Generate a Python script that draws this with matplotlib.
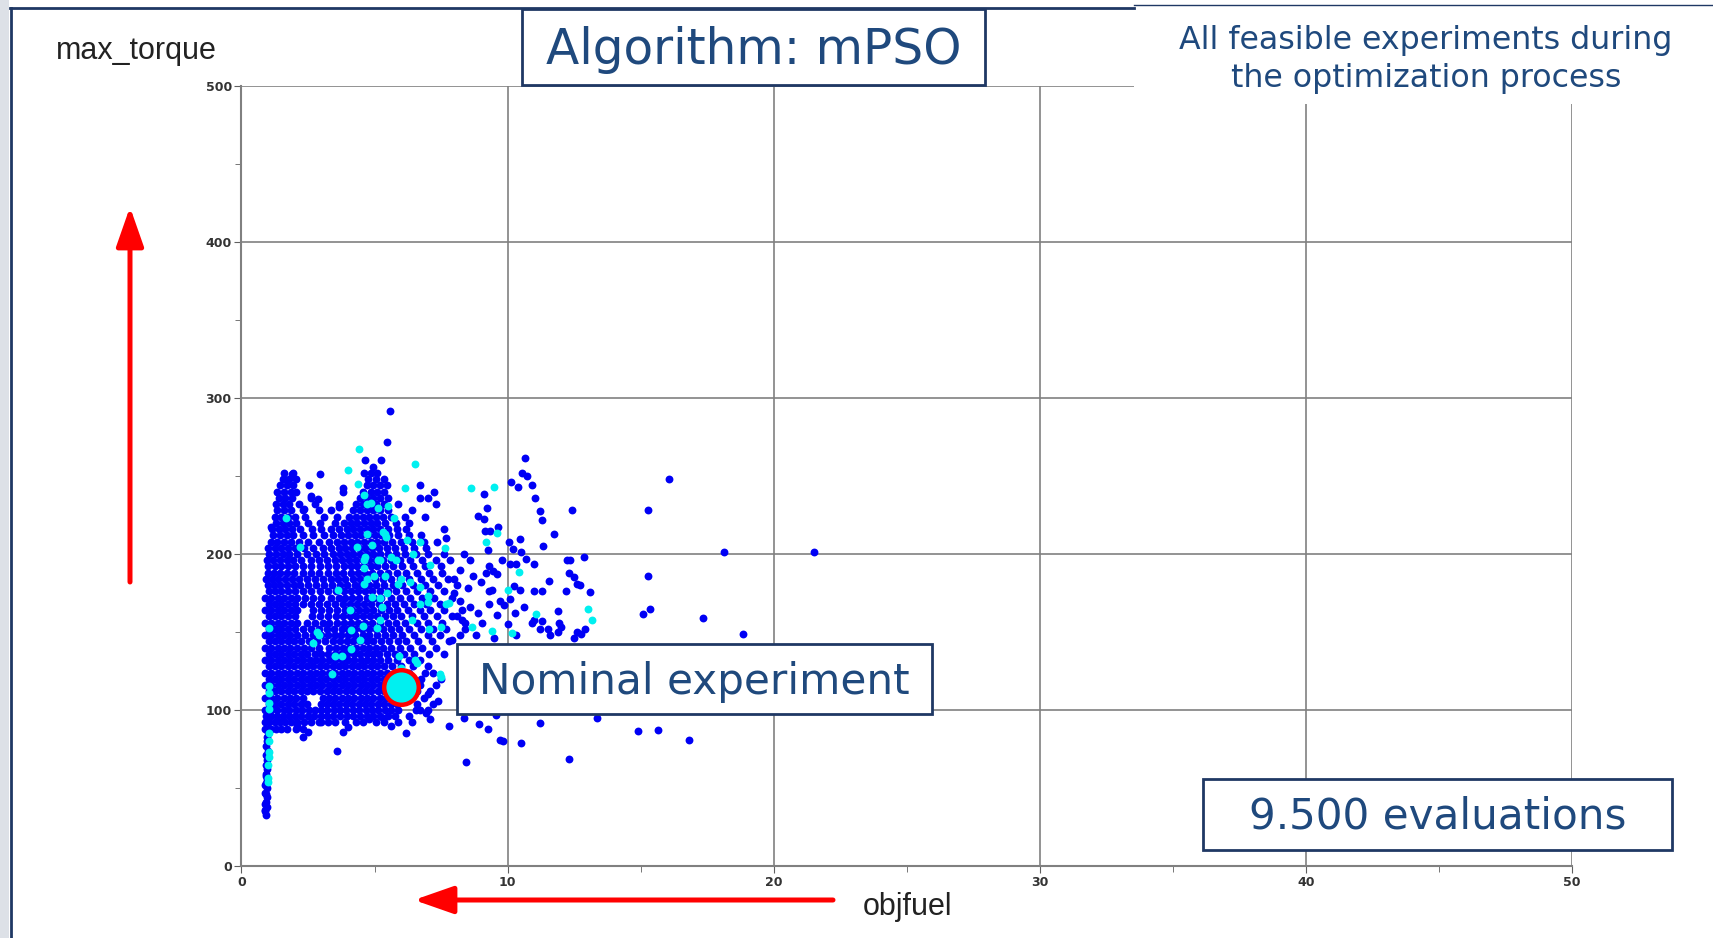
import matplotlib
matplotlib.use("Agg")
import matplotlib.pyplot as plt
from matplotlib.patches import Rectangle, FancyArrowPatch
from matplotlib.lines import Line2D

W, H = 1713, 938

# dense core of the cloud, read row by row (max_torque row -> objfuel values)
row_y = [88, 92, 96, 100, 104, 108, 112, 116, 120, 124, 128, 132, 136, 140, 144, 148,
         152, 156, 160, 164, 168, 172, 176, 180, 184, 188, 192, 196, 200, 204, 208, 212,
         216, 220, 224, 228, 232, 236, 240, 244, 248, 252, 256, 260]
row_x = [
    [0.88, 1.0, 1.12, 1.3, 1.5, 1.72, 2.05, 2.3],
    [0.9, 1.05, 1.25, 1.45, 1.65, 1.85, 2.1, 2.35, 2.62, 2.9, 3.25, 3.5, 3.9, 4.3, 4.55, 5.05, 5.35, 5.9],
    [0.92, 1.1, 1.32, 1.55, 1.78, 2.0, 2.25, 2.5, 2.72, 2.98, 3.2, 3.45, 3.7, 3.95, 4.2, 4.45, 4.7, 4.95, 5.2, 5.5, 5.78, 6.3],
    [0.9, 1.12, 1.35, 1.58, 1.8, 2.05, 2.28, 2.52, 2.76, 3.0, 3.22, 3.46, 3.7, 3.94, 4.18, 4.42, 4.66, 4.9, 5.14, 5.38, 5.62, 5.9, 6.55, 7.0],
    [1.02, 1.26, 1.5, 1.74, 1.98, 2.22, 2.46, 2.98, 3.22, 3.45, 3.68, 3.92, 4.16, 4.4, 4.64, 4.88, 5.12, 5.36, 5.6, 5.84, 6.6],
    [0.9, 1.1, 1.34, 1.58, 1.82, 2.06, 2.3, 3.05, 3.28, 3.52, 3.76, 4.0, 4.24, 4.48, 4.72, 4.96, 5.2, 5.44, 5.68, 6.85],
    [1.02, 1.26, 1.5, 1.74, 1.98, 2.22, 2.46, 2.7, 2.96, 3.2, 3.44, 3.68, 3.92, 4.16, 4.4, 4.64, 4.88, 5.12, 5.36, 5.58, 6.6, 7.1],
    [0.9, 1.12, 1.36, 1.6, 1.84, 2.08, 2.32, 2.56, 2.8, 3.04, 3.28, 3.52, 3.76, 4.0, 4.24, 4.48, 4.72, 4.96, 5.2, 5.42, 6.7, 7.3],
    [1.02, 1.26, 1.5, 1.74, 1.98, 2.22, 2.46, 2.7, 2.94, 3.18, 3.42, 3.66, 3.9, 4.14, 4.38, 4.62, 4.86, 5.1, 5.34, 5.6, 5.85, 6.75, 7.5],
    [0.9, 1.12, 1.36, 1.6, 1.84, 2.08, 2.32, 2.56, 2.8, 3.04, 3.28, 3.52, 3.76, 4.0, 4.24, 4.48, 4.72, 4.96, 5.2, 5.45, 5.75, 6.3, 6.9, 7.2],
    [1.02, 1.26, 1.5, 1.74, 1.98, 2.22, 2.46, 2.7, 2.94, 3.18, 3.42, 3.66, 3.9, 4.14, 4.38, 4.62, 4.86, 5.1, 5.36, 5.65, 6.0, 6.45, 7.0],
    [0.9, 1.12, 1.36, 1.6, 1.84, 2.08, 2.32, 2.56, 2.8, 3.04, 3.28, 3.52, 3.76, 4.0, 4.24, 4.48, 4.72, 4.96, 5.22, 5.5, 5.85, 6.3, 6.7],
    [1.02, 1.26, 1.5, 1.74, 1.98, 2.22, 2.46, 2.76, 3.0, 3.26, 3.5, 3.74, 3.98, 4.22, 4.46, 4.7, 4.94, 5.18, 5.45, 5.75, 6.1, 6.5, 7.05, 7.6],
    [0.9, 1.12, 1.36, 1.6, 1.84, 2.08, 2.35, 2.62, 2.9, 3.3, 3.55, 3.8, 4.05, 4.3, 4.55, 4.8, 5.05, 5.3, 5.6, 5.95, 6.35, 6.8, 7.3],
    [1.02, 1.26, 1.5, 1.74, 1.98, 2.25, 2.55, 2.84, 3.12, 3.45, 3.72, 3.96, 4.2, 4.46, 4.72, 4.96, 5.25, 5.55, 5.88, 6.2, 6.65, 7.15, 7.8],
    [0.9, 1.12, 1.36, 1.6, 1.84, 2.1, 2.4, 2.7, 3.0, 3.25, 3.5, 3.75, 4.0, 4.25, 4.55, 4.8, 5.1, 5.4, 5.7, 6.05, 6.5, 7.0, 7.45, 8.2],
    [1.02, 1.26, 1.5, 1.74, 2.0, 2.3, 2.6, 2.9, 3.2, 3.48, 3.76, 4.02, 4.28, 4.52, 4.78, 5.04, 5.3, 5.6, 5.92, 6.3, 6.75, 7.2, 7.7],
    [0.9, 1.12, 1.36, 1.6, 1.85, 2.1, 2.45, 2.75, 3.05, 3.3, 3.58, 3.85, 4.1, 4.38, 4.65, 4.9, 5.2, 5.5, 5.8, 6.15, 6.6, 7.0, 7.55, 8.4],
    [1.02, 1.26, 1.5, 1.76, 2.0, 2.65, 2.95, 3.25, 3.54, 3.8, 4.06, 4.32, 4.56, 4.84, 5.1, 5.4, 5.7, 6.0, 6.4, 6.85, 7.35, 7.9],
    [0.9, 1.12, 1.36, 1.6, 1.85, 2.1, 2.7, 3.0, 3.3, 3.6, 3.88, 4.15, 4.4, 4.68, 4.95, 5.25, 5.55, 5.85, 6.25, 6.7, 7.1, 7.6, 8.3],
    [1.02, 1.26, 1.5, 1.74, 2.0, 2.3, 2.6, 2.9, 3.2, 3.5, 3.8, 4.06, 4.34, 4.6, 4.88, 5.16, 5.45, 5.78, 6.1, 6.5, 6.95, 7.45],
    [0.9, 1.12, 1.36, 1.6, 1.85, 2.1, 2.4, 2.7, 3.0, 3.35, 3.65, 3.9, 4.15, 4.42, 4.7, 4.98, 5.25, 5.6, 5.95, 6.35, 6.8, 7.25, 7.9],
    [1.02, 1.26, 1.5, 1.74, 2.0, 2.3, 2.6, 2.95, 3.25, 3.55, 3.85, 4.1, 4.36, 4.64, 4.9, 5.2, 5.5, 5.82, 6.2, 6.6, 7.1, 7.6],
    [1.0, 1.22, 1.46, 1.7, 1.96, 2.2, 2.5, 2.8, 3.1, 3.4, 3.7, 3.98, 4.25, 4.5, 4.78, 5.05, 5.35, 5.7, 6.05, 6.45, 6.9, 7.4, 8.1],
    [0.92, 1.15, 1.38, 1.62, 1.88, 2.15, 2.45, 2.75, 3.05, 3.35, 3.62, 3.9, 4.18, 4.45, 4.72, 5.0, 5.3, 5.6, 5.95, 6.3, 6.75, 7.2, 7.75],
    [1.0, 1.22, 1.46, 1.7, 1.98, 2.3, 2.6, 2.92, 3.25, 3.55, 3.82, 4.1, 4.38, 4.65, 4.92, 5.2, 5.5, 5.85, 6.2, 6.6, 7.05, 7.55],
    [1.0, 1.25, 1.5, 1.75, 2.0, 2.3, 2.6, 2.95, 3.25, 3.55, 3.85, 4.1, 4.35, 4.6, 4.85, 5.1, 5.4, 5.7, 6.05, 6.45, 6.9, 7.5],
    [0.95, 1.2, 1.45, 1.7, 1.95, 2.25, 2.6, 2.9, 3.2, 3.5, 3.78, 4.05, 4.3, 4.55, 4.8, 5.05, 5.3, 5.6, 5.95, 6.35, 6.8, 7.3, 7.85],
    [1.05, 1.3, 1.55, 1.8, 2.1, 2.45, 2.8, 3.1, 3.45, 3.7, 3.95, 4.2, 4.45, 4.7, 4.95, 5.2, 5.5, 5.8, 6.15, 6.55, 7.0, 7.6],
    [1.0, 1.25, 1.5, 1.75, 2.0, 2.35, 2.7, 3.05, 3.35, 3.65, 3.9, 4.15, 4.4, 4.65, 4.9, 5.15, 5.45, 5.75, 6.1, 6.5, 6.95],
    [1.1, 1.35, 1.6, 1.85, 2.15, 2.5, 2.9, 3.3, 3.6, 3.85, 4.1, 4.35, 4.6, 4.85, 5.1, 5.35, 5.65, 6.0, 6.4, 6.85, 7.35],
    [1.2, 1.45, 1.7, 1.95, 2.3, 2.7, 3.1, 3.45, 3.75, 4.0, 4.25, 4.5, 4.75, 5.0, 5.25, 5.55, 5.9, 6.3, 6.75],
    [1.15, 1.4, 1.65, 1.9, 2.2, 2.65, 3.0, 3.35, 3.65, 3.95, 4.2, 4.45, 4.7, 4.95, 5.2, 5.5, 5.85, 6.2, 7.6],
    [1.3, 1.55, 1.8, 2.05, 2.5, 2.95, 3.5, 3.85, 4.1, 4.35, 4.6, 4.85, 5.1, 5.4, 5.8, 6.3],
    [1.25, 1.5, 1.75, 2.0, 2.4, 3.1, 3.6, 4.05, 4.3, 4.55, 4.8, 5.05, 5.3, 5.6, 6.15, 6.9],
    [1.35, 1.6, 1.85, 2.3, 2.9, 3.35, 4.2, 4.45, 4.7, 4.95, 5.2, 5.5, 6.4],
    [1.3, 1.55, 1.8, 2.15, 2.75, 3.65, 4.3, 4.55, 4.8, 5.05, 5.35, 5.9, 7.3],
    [1.4, 1.65, 1.9, 2.6, 4.45, 4.7, 4.95, 5.2, 5.5, 6.7, 7.0],
    [1.35, 1.6, 1.85, 2.05, 3.8, 4.55, 4.85, 5.1, 5.35, 7.25],
    [1.45, 1.7, 1.95, 2.55, 4.7, 4.95, 5.2, 5.45, 6.7],
    [1.55, 1.8, 2.05, 4.75, 5.05, 5.35],
    [1.6, 1.95, 4.6, 4.85, 5.1],
    [4.95],
    [4.63, 5.24],
]

# thin column of low-torque points at objfuel ~ 1
thin_x = [0.92, 0.9, 0.97, 0.92, 0.95, 0.9, 0.96, 0.92, 0.95, 0.91, 0.97, 0.93, 0.96, 0.92, 0.98, 0.93, 0.97, 0.95, 0.99,
          0.9, 0.9, 0.91, 0.9, 0.92]
thin_y = [33, 36, 38, 41, 44, 47, 50, 53, 56, 59, 62, 65, 68, 71, 74, 77, 80, 83, 86,
          35, 40, 46, 52, 58]

# scattered (objfuel, max_torque) points outside the core
blue_pts = [
    (5.59, 291.7), (5.47, 272), (2.95, 251), (3.82, 242.5), (2.6, 237), (2.88, 235), (1.89, 251), (1.59, 248),
    (3.67, 230), (2.33, 229), (1.1, 217),
    (2.3, 83), (3.6, 74), (3.8, 86), (4.0, 89), (2.1, 90), (2.5, 86), (6.2, 85), (6.42, 92), (7.09, 94),
    (7.78, 89.7), (8.38, 94.7), (8.44, 66.5), (8.93, 90.8), (9.26, 87.8), (9.56, 96.6), (9.72, 80.8), (9.84, 80.3),
    (10.5, 78.6), (11.22, 91.5), (12.3, 68.4), (13.35, 94.7), (14.9, 86.5), (15.67, 87), (16.83, 80.8),
    (4.8, 94), (5.3, 95), (3.0, 92), (5.6, 90),
    (10.67, 261.3), (10.53, 251.7), (10.74, 250), (10.13, 246.4), (10.38, 243), (10.91, 244), (9.12, 238.5),
    (11.02, 236), (9.23, 229.3), (11.2, 227.8), (11.3, 222), (8.89, 224.6), (9.1, 222.4), (12.42, 228.2),
    (15.27, 228), (9.65, 217.5), (11.76, 212.6), (9.15, 214.5), (9.35, 215), (10.47, 209.8), (10.06, 207.5),
    (11.32, 205.3), (9.25, 202.5), (10.2, 203), (10.5, 201), (12.88, 198), (10.7, 197), (12.25, 196),
    (12.35, 196.3), (9.8, 196), (10.98, 193.4), (10.1, 193.6), (10.3, 193.6), (12.3, 187.6), (12.5, 185),
    (15.26, 186), (9.2, 188), (9.45, 189), (9.6, 187.5), (11.56, 183), (12.6, 181), (12.72, 180), (13.1, 175.9),
    (12.2, 176.5), (11.0, 176), (11.3, 176), (10.24, 179.7), (10.47, 177), (9.3, 176.5), (9.42, 176.8),
    (11.9, 163.7), (15.1, 161.5), (15.36, 164.7), (10.9, 156), (11.0, 158), (11.3, 157), (11.95, 156),
    (11.2, 152), (11.5, 152), (11.9, 150), (12.6, 150), (12.9, 152), (10.28, 162.4), (9.7, 170), (9.85, 167),
    (12.76, 148.7), (12.51, 146.3), (12.0, 153.4), (11.6, 148), (16.08, 248), (18.13, 201), (21.53, 201),
    (17.34, 159.2), (18.85, 149),
    (8.2, 170), (8.6, 166), (8.9, 162), (9.3, 168), (9.6, 161), (9.05, 156), (8.4, 152), (8.8, 148), (9.5, 146),
    (10.0, 155), (10.3, 148), (10.6, 166), (10.1, 171), (8.3, 158), (8.0, 175), (8.5, 178), (9.0, 182),
    (8.7, 186), (8.2, 190), (9.3, 192), (8.6, 196), (8.0, 184), (7.9, 145), (8.1, 160), (8.35, 200), (7.7, 210),
    (6.7, 100), (7.2, 104), (7.0, 110), (6.95, 98), (7.4, 106),
]

cyan_pts = [
    (1.03, 152.6), (1.03, 115.4), (1.03, 111), (1.03, 104.7), (1.03, 100.4), (1.02, 85.5), (1.02, 80),
    (1.02, 73.3), (1.02, 70), (1.01, 64.7), (1.0, 56.2), (1.0, 54),
    (4.41, 267), (6.52, 258), (4.02, 254), (4.37, 245), (6.15, 242), (4.72, 232), (4.85, 232.5), (5.14, 229.7),
    (5.52, 230.8), (5.72, 222.9), (1.66, 222.9), (4.62, 237.8), (5.4, 213), (5.33, 214.3), (5.43, 211),
    (6.22, 209.2), (6.72, 208), (4.71, 213), (2.2, 204.7), (4.35, 204.7), (4.9, 205.6), (7.63, 203.6),
    (4.65, 198), (5.6, 198), (5.8, 196), (5.12, 196), (5.22, 196), (4.6, 196), (7.08, 193), (6.45, 200),
    (4.6, 191), (4.97, 186), (6.0, 184), (6.35, 182), (4.7, 184), (5.4, 186), (4.62, 180.8), (3.64, 177),
    (4.92, 172.6), (5.2, 172), (5.47, 175), (5.9, 181), (6.7, 179), (7.0, 173), (7.02, 169), (6.7, 168),
    (6.4, 158), (7.05, 152), (7.5, 153), (7.7, 168), (6.52, 132), (6.6, 130), (6.0, 127), (7.46, 123),
    (5.92, 134.6), (2.83, 150.2), (2.9, 148), (2.7, 142.7), (3.41, 123), (3.52, 134.6), (3.77, 134.6),
    (4.08, 164), (4.1, 151), (4.12, 139), (4.45, 145), (4.55, 154), (5.08, 152.4), (5.22, 158), (5.28, 166),
    (8.63, 242), (9.48, 243), (9.6, 213.7), (9.2, 207.5), (10.44, 188.7), (10.02, 177), (11.07, 161.3),
    (13.03, 164.5), (13.19, 157.7), (8.65, 153.4), (9.4, 150.8), (10.17, 149.6), (7.78, 168.4), (7.5, 121),
]

nominal = (6.0, 114.5)

x_ticks = [0, 10, 20, 30, 40, 50]
y_ticks = [0, 100, 200, 300, 400, 500]

navy = '#1f3864'
txt_blue = '#1f497d'


def fx(px):
    return px / W


def fy(py):
    return 1 - py / H


fig = plt.figure(figsize=(W / 100, H / 100), dpi=100)
fig.patch.set_facecolor('white')

ax = fig.add_axes([fx(241.5), fy(866), fx(1572) - fx(241.5), fy(86) - fy(866)])

dx, dy = [], []
for yy, xs in zip(row_y, row_x):
    for xv in xs:
        dx.append(xv)
        dy.append(yy)
dx += thin_x
dy += thin_y
dx += [p[0] for p in blue_pts]
dy += [p[1] for p in blue_pts]

ax.scatter(dx, dy, s=32, c='#0000f5', linewidths=0, zorder=3)
ax.scatter([p[0] for p in cyan_pts], [p[1] for p in cyan_pts], s=32, c='#00f0f0', linewidths=0, zorder=4)
ax.scatter([nominal[0]], [nominal[1]], s=620, c='#00f0f0', edgecolors='#ff0000', linewidths=3.2, zorder=5)

ax.set_xlim(0, 50)
ax.set_ylim(0, 500)
ax.set_xticks(x_ticks)
ax.set_yticks(y_ticks)
ax.set_xticks([5, 15, 25, 35, 45], minor=True)
ax.set_yticks([50, 150, 250, 350, 450], minor=True)
ax.grid(True, which='major', color='#808080', lw=1.2, zorder=1)
for s in ['top', 'right']:
    ax.spines[s].set_visible(False)
for s in ['left', 'bottom']:
    ax.spines[s].set_color('#808080')
    ax.spines[s].set_linewidth(1.5)
ax.tick_params(which='both', direction='out', color='#606060', labelsize=9, labelcolor='#333333', pad=2)
ax.tick_params(which='major', length=5)
ax.tick_params(which='minor', length=4)
for lab in ax.get_xticklabels() + ax.get_yticklabels():
    lab.set_fontweight('bold')

# slide decoration
fig.add_artist(Rectangle((0, 0), fx(9), 1, transform=fig.transFigure, facecolor='#dde1e7', edgecolor='none', zorder=6))
fig.add_artist(Line2D([fx(10.5), fx(10.5)], [0, fy(8)], transform=fig.transFigure, color=navy, lw=2, zorder=7))
fig.add_artist(Line2D([fx(10), fx(1134)], [fy(8), fy(8)], transform=fig.transFigure, color=navy, lw=2, zorder=7))

# white box with description top right
fig.add_artist(Rectangle((fx(1134), fy(104)), 1 - fx(1134), fy(6) - fy(104), transform=fig.transFigure,
                         facecolor='white', edgecolor='none', zorder=6))
fig.add_artist(Line2D([fx(1134), 1], [fy(5), fy(5)], transform=fig.transFigure, color=navy, lw=1, zorder=7))
fig.text(fx(1426), fy(41), 'All feasible experiments during', ha='center', va='center',
         fontsize=22.8, color=txt_blue, zorder=8)
fig.text(fx(1426), fy(79), 'the optimization process', ha='center', va='center',
         fontsize=22.8, color=txt_blue, zorder=8)


def boxed(x0, y0, x1, y1, text, size, dy_txt):
    fig.add_artist(Rectangle((fx(x0), fy(y1)), fx(x1) - fx(x0), fy(y0) - fy(y1), transform=fig.transFigure,
                             facecolor='white', edgecolor=navy, lw=2, zorder=8))
    fig.text(fx((x0 + x1) / 2), fy((y0 + y1) / 2 + dy_txt), text, ha='center', va='center',
             fontsize=size, color=txt_blue, zorder=9)


boxed(522, 9, 985, 85, 'Algorithm: mPSO', 35, 3)
boxed(457, 644, 932, 714, 'Nominal experiment', 30.3, 3)
boxed(1203, 779, 1672, 850, '9.500 evaluations', 30.3, 2)

# axis names
fig.text(fx(136), fy(51), 'max_torque', ha='center', va='center', fontsize=22,
         family='Liberation Sans', color='#222222')
fig.text(fx(908), fy(907), 'objfuel', ha='center', va='center', fontsize=22,
         family='Liberation Sans', color='#222222')

# red arrows
fig.add_artist(FancyArrowPatch(
    (fx(130), fy(582)), (fx(130), fy(207)), transform=fig.transFigure, shrinkA=0, shrinkB=0,
    arrowstyle='-|>,head_width=0.42,head_length=1.2', color='#ff0000', lw=3.6, mutation_scale=20, zorder=8))
fig.add_artist(FancyArrowPatch(
    (fx(833), fy(900)), (fx(414), fy(900)), transform=fig.transFigure, shrinkA=0, shrinkB=0,
    arrowstyle='-|>,head_width=0.42,head_length=1.2', color='#ff0000', lw=3.6, mutation_scale=20, zorder=8))

fig.savefig('out.png', dpi=100)
